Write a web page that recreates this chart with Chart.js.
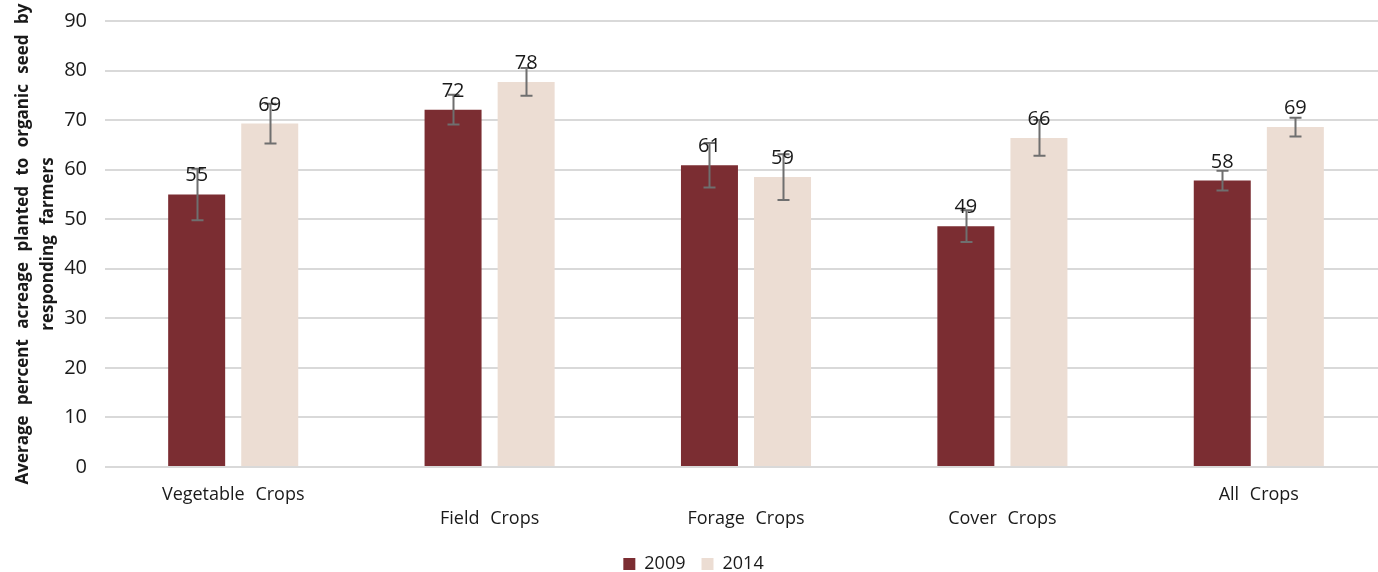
<!DOCTYPE html>
<html>
<head>
<meta charset="utf-8">
<title>Organic seed acreage by crop type</title>
<script src="https://cdn.jsdelivr.net/npm/chart.js"></script>
<style>
	html, body { margin: 0; padding: 0; background: #fff; overflow: hidden; }
</style>
</head>
<body>
<canvas id="seedChart" width="1390" height="583"></canvas>
<script>
// categories, with blank lines to stagger labels the way the original does
const categories = [
	["Vegetable Crops", ""],
	["", "Field Crops"],
	["", "Forage Crops"],
	["", "Cover Crops"],
	["All Crops", ""],
];
const seriesNames = ["2009", "2014"];
const values2009 = [55.0, 72.1, 60.9, 48.6, 57.8];
const values2014 = [69.3, 77.7, 58.5, 66.4, 68.6];
const errors2009 = [5.2, 3.0, 4.5, 3.2, 2.0];
const errors2014 = [4.0, 2.8, 4.6, 3.6, 1.9];
const yTicks = [0, 10, 20, 30, 40, 50, 60, 70, 80, 90];

const COLOR_2009 = "#7b2d32";
const COLOR_2014 = "#ecddd3";
const FONT = "'Open Sans', 'Noto Sans', sans-serif";

// Excel-style wide spaces between words
const wordSpacingPlugin = {
	id: "wordSpacing",
	beforeDraw(chart) {
		chart.ctx.wordSpacing = "6px";
	},
};

const errorBarPlugin = {
	id: "errorBars",
	afterDatasetsDraw(chart) {
		const { ctx } = chart;
		const yScale = chart.scales.y;
		ctx.save();
		ctx.strokeStyle = "#6f6f6f";
		ctx.lineWidth = 2;
		chart.data.datasets.forEach((ds, i) => {
			const meta = chart.getDatasetMeta(i);
			meta.data.forEach((bar, j) => {
				const v = ds.data[j];
				const e = ds.errors[j];
				const yTop = yScale.getPixelForValue(v + e);
				const yBot = yScale.getPixelForValue(v - e);
				const x = Math.round(bar.x) + 0.5;
				ctx.beginPath();
				ctx.moveTo(x, yTop);
				ctx.lineTo(x, yBot);
				ctx.moveTo(x - 6, yTop);
				ctx.lineTo(x + 6, yTop);
				ctx.moveTo(x - 6, yBot);
				ctx.lineTo(x + 6, yBot);
				ctx.stroke();
			});
		});
		ctx.restore();
	},
};

const valueLabelPlugin = {
	id: "valueLabels",
	afterDraw(chart) {
		const { ctx } = chart;
		ctx.save();
		ctx.font = `20px ${FONT}`;
		ctx.fillStyle = "#1a1a1a";
		ctx.textAlign = "center";
		ctx.textBaseline = "alphabetic";
		chart.data.datasets.forEach((ds, i) => {
			chart.getDatasetMeta(i).data.forEach((bar, j) => {
				ctx.fillText(String(Math.round(ds.data[j])), bar.x, bar.y - 13);
			});
		});
		ctx.restore();
	},
};

const ctx = document.getElementById("seedChart").getContext("2d");
new Chart(ctx, {
	type: "bar",
	data: {
		labels: categories,
		datasets: [
			{
				label: seriesNames[0],
				data: values2009,
				errors: errors2009,
				backgroundColor: COLOR_2009,
			},
			{
				label: seriesNames[1],
				data: values2014,
				errors: errors2014,
				backgroundColor: COLOR_2014,
			},
		],
	},
	options: {
		responsive: false,
		animation: false,
		categoryPercentage: 0.57,
		barPercentage: 0.78,
		layout: {
			padding: { top: 21, right: 3, bottom: 0, left: 0 },
		},
		scales: {
			x: {
				grid: { display: false },
				border: { display: false },
				afterFit: (scale) => {
					scale.height = 72;
				},
				ticks: {
					color: "#1a1a1a",
					font: { family: FONT, size: 18, lineHeight: 1.33 },
					padding: 8,
					maxRotation: 0,
					autoSkip: false,
				},
			},
			y: {
				min: 0,
				max: 90,
				afterBuildTicks: (scale) => {
					scale.ticks = yTicks.map((v) => ({ value: v }));
				},
				afterFit: (scale) => {
					scale.width = 105;
					scale.paddingTop = 0;
					scale.paddingBottom = 0;
				},
				grid: { color: "#d9d9d9", lineWidth: 2, drawTicks: false },
				border: { display: false },
				ticks: {
					color: "#1a1a1a",
					font: { family: FONT, size: 20 },
					padding: 18,
				},
				title: {
					display: true,
					text: [
						"Average percent acreage planted to organic seed by",
						"responding farmers",
					],
					color: "#1a1a1a",
					font: { family: FONT, size: 17, weight: "bold", lineHeight: 1.45 },
					padding: { top: 11, bottom: 0 },
				},
			},
		},
		plugins: {
			legend: {
				position: "bottom",
				labels: {
					color: "#1a1a1a",
					font: { family: FONT, size: 18 },
					boxWidth: 12,
					boxHeight: 12,
					padding: 16,
				},
			},
			tooltip: { enabled: false },
		},
	},
	plugins: [wordSpacingPlugin, errorBarPlugin, valueLabelPlugin],
});
</script>
</body>
</html>
